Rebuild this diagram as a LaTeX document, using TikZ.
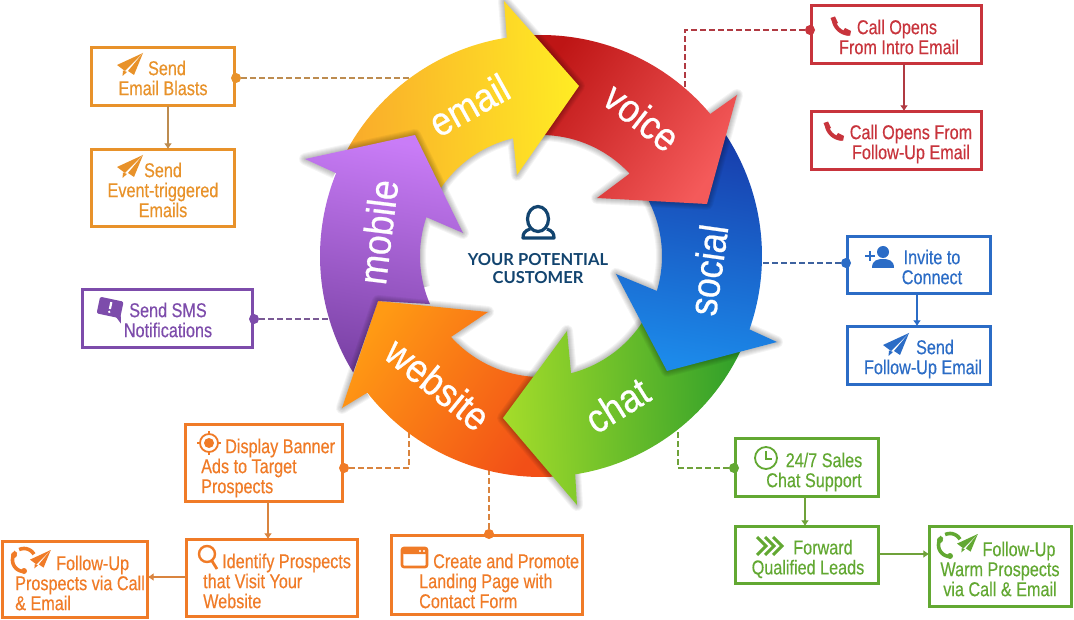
\documentclass[tikz,border=0pt]{standalone}
\usepackage{fontspec}
\usetikzlibrary{arrows.meta}
\newfontfamily\nar[FakeStretch=0.81,FakeBold=0.35]{Liberation Sans}
\newfontfamily\ringf[FakeStretch=0.89,FakeBold=0.6]{Liberation Sans}
\newfontfamily\latof{Lato}
\definecolor{cOr}{HTML}{F07B27}
\definecolor{cOrL}{HTML}{D9843F}
\definecolor{cYe}{HTML}{E8922A}
\definecolor{cYeL}{HTML}{BD8C50}
\definecolor{cPu}{HTML}{7D4CAB}
\definecolor{cPuL}{HTML}{7A5A95}
\definecolor{cRe}{HTML}{C8343C}
\definecolor{cReL}{HTML}{B03A42}
\definecolor{cBl}{HTML}{2B6CC6}
\definecolor{cBlL}{HTML}{3D629F}
\definecolor{cGr}{HTML}{62A832}
\definecolor{cGrL}{HTML}{6FA23A}
\definecolor{cNavy}{HTML}{12446F}
\definecolor{wA}{HTML}{F24F17}\definecolor{wB}{HTML}{FF9A14}
\definecolor{cA}{HTML}{2E9E2A}\definecolor{cB}{HTML}{A4DC2A}
\definecolor{sA}{HTML}{173CAB}\definecolor{sB}{HTML}{1C8AEA}
\definecolor{vA}{HTML}{BE1515}\definecolor{vB}{HTML}{F45A5A}
\definecolor{eA}{HTML}{F9A92B}\definecolor{eB}{HTML}{FFEC24}
\definecolor{mA}{HTML}{7B42A6}\definecolor{mB}{HTML}{C97CF7}
\tikzset{
  bx/.style={draw=#1,line width=2.6pt,fill=white,inner sep=0pt,outer sep=0pt},
  tx/.style={text=#1,align=center,inner sep=0pt,font=\nar\fontsize{20}{20}\selectfont},
  txl/.style={text=#1,align=left,inner sep=0pt,font=\nar\fontsize{20}{20}\selectfont},
  rl/.style={text=white,inner sep=0pt,font=\ringf\fontsize{40}{40}\selectfont},
  ctr/.style={text=cNavy,align=center,inner sep=0pt,font=\latof\bfseries\fontsize{16.5}{18}\selectfont},
  dotn/.style={circle,fill=#1,inner sep=0pt,minimum size=10pt},
  dashc/.style={draw=#1,line width=1.7pt,dash pattern=on 5.5pt off 3.5pt},
  arr/.style={draw=#1,line width=1.6pt,-{Latex[length=6pt,width=8pt]}},
  grad/.style n args={3}{shade,shading=axis,bottom color=#1,top color=#2,shading angle=#3}
}
\newcommand\bxn[6]{\node[bx=#2,minimum width={(#5-#3-2.6)*1pt},minimum height={(#6-#4-2.6)*1pt}] (#1) at ({(#3+#5)/2},{(#4+#6)/2}) {};}
\newcommand\outarc[2]{plot[domain=#1:#2,samples=40] ({541+221*cos(\x)},{256-221*sin(\x)})}
\newcommand\inarc[2]{-- plot[domain=#1:#2,samples=30] ({541+121*cos(\x)},{256-121*sin(\x)})}
\newcommand\headglow[1]{\foreach \w in {2,4,6,8,10,12}{\draw[black,opacity=.045,line width=\w pt,line join=round] #1;}}
\newcommand\planeic[4]{\begin{scope}[shift={(#1,#2)},scale=#3]
  \fill[#4] (0,12) -- (26,0) -- (8,18) -- cycle;
  \fill[#4] (26,0) -- (11,18) -- (17,22) -- cycle;
  \fill[#4] (6,17.5) -- (10,19) -- (5.5,23) -- cycle;
\end{scope}}
\newcommand\phoneic[3]{\begin{scope}[shift={(#1,#2)}]
  \draw[#3,line width=4pt] (3.5,1) .. controls (4,10) and (10,16) .. (19,17);
  \fill[#3] (0.5,1) -- (5,-0.5) -- (8,6) -- (3.5,8) -- cycle;
  \fill[#3] (13,14) -- (15,11) -- (21,14) -- (20,19) -- cycle;
\end{scope}}
\newcommand\loopic[3]{\begin{scope}[shift={(#1,#2)}]
  \draw[#3,line width=3.6pt] plot[domain=135:265,samples=15] ({11.5*cos(\x)},{-11.5*sin(\x)});
  \draw[#3,line width=3.6pt] plot[domain=30:115,samples=10] ({11.5*cos(\x)},{-11.5*sin(\x)});
  \fill[#3] (-10,-5) circle (3pt);
  \fill[#3] (0,11) circle (3pt);
\end{scope}}
\begin{document}
\begin{tikzpicture}[x=1pt,y=-1pt]
\useasboundingbox (0,0) rectangle (1074,620);
\fill[white] (0,0) rectangle (1074,620);
% boxes
\bxn{b1}{cYe}{90}{46}{236}{107}
\bxn{b2}{cYe}{90}{148}{236}{228}
\bxn{b3}{cPu}{81}{288}{254}{349}
\bxn{b4}{cRe}{810}{4}{983}{65}
\bxn{b5}{cRe}{810}{110}{983}{171}
\bxn{b6}{cBl}{846}{235}{992}{295}
\bxn{b7}{cBl}{846}{325}{992}{386}
\bxn{b8}{cGr}{734}{437}{880}{498}
\bxn{b9}{cGr}{734}{525}{880}{585}
\bxn{b10}{cGr}{928}{525}{1073}{608}
\bxn{b11}{cOr}{184}{423}{344}{503}
\bxn{b12}{cOr}{185}{538}{359}{618}
\bxn{b13}{cOr}{1}{540}{149}{619}
\bxn{b14}{cOr}{390}{534}{584}{616}
% dots
\node[dotn=cYe] (d1) at (236,78) {};
\node[dotn=cPu] (d3) at (254,319) {};
\node[dotn=cRe] (d4) at (810,30) {};
\node[dotn=cBl] (d6) at (846,263) {};
\node[dotn=cGr] (d8) at (734,468) {};
\node[dotn=cOr] (d11) at (344,468) {};
\node[dotn=cOr] (d14) at (489,534) {};
% free ends
\coordinate (e1) at (415,78);
\coordinate (e3) at (335,319);
\coordinate (e4) at (685,95);
\coordinate (e6) at (755,263);
\coordinate (e8) at (678,420);
\coordinate (e11) at (409,425);
\coordinate (e14) at (489,465);
% connectors
\draw[dashc=cYeL] (d1) -- (e1);
\draw[dashc=cPuL] (d3) -- (e3);
\draw[dashc=cReL] (d4) -| (e4);
\draw[dashc=cBlL] (d6) -- (e6);
\draw[dashc=cGrL] (d8) -| (e8);
\draw[dashc=cOrL] (d11) -| (e11);
\draw[dashc=cOrL] (d14) -- (e14);
\draw[arr=cYeL] (168,0 |- b1.south) -- (168,0 |- b2.north);
\draw[arr=cReL] (904,0 |- b4.south) -- (904,0 |- b5.north);
\draw[arr=cBl] (917,0 |- b6.south) -- (917,0 |- b7.north);
\draw[arr=cGrL] (805,0 |- b8.south) -- (805,0 |- b9.north);
\draw[arr=cGrL] (b9.east |- 0,554) -- (b10.west |- 0,554);
\draw[arr=cOrL] (268,0 |- b11.south) -- (268,0 |- b12.north);
\draw[arr=cOrL] (b12.west |- 0,577) -- (b13.east |- 0,577);
% ring arrows: website
\headglow{(367,393) -- (342,408) -- (378,301) -- (488,312) -- (451,337) \inarc{-138}{-84}}
\path[grad={wA}{wB}{55}] \outarc{-84}{-141.8} -- (342,408) -- (378,301) -- (488,312) -- (451,337) \inarc{-138}{-84} -- cycle;
% chat
\headglow{(575,473) -- (577,505) -- (503,418) -- (567,331) -- (571,373) \inarc{-75.6}{-22}}
\path[grad={cA}{cB}{92}] \outarc{-22}{-81.1} -- (577,505) -- (503,418) -- (567,331) -- (571,373) \inarc{-75.6}{-22} -- cycle;
% social
\headglow{(748,329) -- (777,342) -- (667,371) -- (616,274) -- (657,291) \inarc{-16.8}{36}}
\path[grad={sA}{sB}{170}] \outarc{36}{-19.4} -- (777,342) -- (667,371) -- (616,274) -- (657,291) \inarc{-16.8}{36} -- cycle;
% voice
\headglow{(709,115) -- (737,95) -- (707,204) -- (597,198) -- (629,174) \inarc{43}{95}}
\path[grad={vA}{vB}{235}] \outarc{95}{40} -- (737,95) -- (707,204) -- (597,198) -- (629,174) \inarc{43}{95} -- cycle;
% email
\headglow{(507,39) -- (504,1) -- (579,86) -- (517,175) -- (513,137) \inarc{103.2}{152}}
\path[grad={eA}{eB}{272}] \outarc{155}{98.9} -- (504,1) -- (579,86) -- (517,175) -- (513,137) \inarc{103.2}{152} -- cycle;
% mobile
\headglow{(335,173) -- (305,159) -- (415,135) -- (463,233) -- (426,217) \inarc{161.3}{195}}
\path[grad={mA}{mB}{350}] \outarc{211.8}{158} -- (305,159) -- (415,135) -- (463,233) -- (426,217) \inarc{161.3}{203.4} -- (378,301) -- cycle;
\begin{scope}
\clip \outarc{211.8}{158} -- (305,159) -- (415,135) -- (463,233) -- (426,217) \inarc{161.3}{203.4} -- (378,301) -- cycle;
\headglow{(342,408) -- (378,301) -- (488,312)}
\end{scope}
% ring labels
\node[rl,rotate=29] (lemail) at (469,105) {email};
\node[rl,rotate=-38] (lvoice) at (642,117) {voice};
\node[rl,rotate=82] (lsocial) at (708,270) {social};
\node[rl,rotate=32] (lchat) at (617,405) {chat};
\node[rl,rotate=-39] (lweb) at (438,384) {website};
\node[rl,rotate=83] (lmob) at (378,232) {mobile};
% centre
\draw[cNavy,line width=3.2pt] (538,219) ellipse[x radius=10.5pt,y radius=12.5pt];
\draw[cNavy,line width=3.2pt,line join=round] (530,229) .. controls (524,231) and (523,234) .. (523,238) -- (554,238) .. controls (554,234) and (553,231) .. (547,229);
\node[ctr] (cust) at (538,269) {YOUR POTENTIAL\\CUSTOMER};
% texts
\node[tx=cYe] (t1) at (163,78) {\hspace*{8pt}Send\\Email Blasts};
\node[tx=cYe] (t2) at (163,190) {Send\\Event-triggered\\Emails};
\node[tx=cPu] (t3) at (168,320) {Send SMS\\Notifications};
\node[tx=cRe] (t4) at (899,37) {\hspace*{-4pt}Call Opens\\From Intro Email};
\node[tx=cRe] (t5) at (911,144) {Call Opens From\\Follow-Up Email};
\node[tx=cBl] (t6) at (932,267) {Invite to\\Connect};
\node[tx=cBl] (t7) at (923,359) {\hspace*{24pt}Send\\Follow-Up Email};
\node[tx=cGr] (t8) at (814,472) {\hspace*{20pt}24/7 Sales\\Chat Support};
\node[tx=cGr] (t9) at (808,559) {\hspace*{30pt}Forward\\Qualified Leads};
\node[tx=cGr] (t10) at (1000,569) {\hspace*{38pt}Follow-Up\\Warm Prospects\\via Call \& Email};
\node[txl=cOr,anchor=west] (t11) at (201,468) {\hspace*{24pt}Display Banner\\Ads to Target\\Prospects};
\node[txl=cOr,anchor=west] (t12) at (203,581) {\hspace*{19pt}Identify Prospects\\that Visit Your\\Website};
\node[txl=cOr,anchor=west] (t13) at (15,583) {\hspace*{41pt}Follow-Up\\Prospects via Call\\\& Email};
\node[txl=cOr,anchor=west] (t14) at (419,581) {\hspace*{14pt}Create and Promote\\Landing Page with\\Contact Form};
% icons
\planeic{117}{53}{1}{cYe}
\planeic{117}{155}{1}{cYe}
\planeic{883}{333}{1}{cBl}
\planeic{957}{534}{.8}{cGr}
\planeic{30}{550}{.8}{cOr}
\loopic{950}{545}{cGr}
\loopic{24}{560}{cOr}
\phoneic{830}{17}{cRe}
\phoneic{823}{122}{cRe}
% sms icon
\begin{scope}[shift={(110,308)},rotate=-12]
 \fill[cPu,rounded corners=2pt] (-12,-9) rectangle (12,8);
 \fill[cPu] (6,6) -- (14,13) -- (12,5) -- cycle;
 \fill[white] (-1,-6) rectangle (1.2,1);
 \fill[white] (0.1,4) circle (1.3pt);
\end{scope}
% person plus icon
\fill[cBl] (883,252) circle (6pt);
\fill[cBl] (872,268) .. controls (872,260) and (878,259) .. (883,259) .. controls (888,259) and (894,260) .. (894,268) -- cycle;
\draw[cBl,line width=2.2pt] (865,256) -- (875,256) (870,251) -- (870,261);
% clock
\draw[cGr,line width=1.8pt] (766,458) circle (11pt);
\draw[cGr,line width=1.5pt] (766,451) -- (766,459) -- (772,459);
% chevrons
\foreach \cx in {757,765,773}{\draw[cGr,line width=3pt] (\cx,537) -- (\cx+9,546) -- (\cx,555);}
% target
\draw[cOr,line width=1.8pt] (209,443) circle (9pt);
\fill[cOr] (209,443) circle (5pt);
\draw[cOr,line width=1.8pt] (209,431) -- (209,435) (209,451) -- (209,455) (197,443) -- (201,443) (217,443) -- (221,443);
% magnifier
\draw[cOr,line width=2.4pt] (207,554) circle (8pt);
\draw[cOr,line width=2.8pt] (212,561) -- (217,569);
% browser
\draw[cOr,line width=2.6pt,rounded corners=2pt] (402,548) rectangle (427,567);
\fill[cOr,rounded corners=1.5pt] (402,548) rectangle (427,554);
\fill[white] (420,551) circle (1.2pt) (424,551) circle (1.2pt);
\end{tikzpicture}
\end{document}
